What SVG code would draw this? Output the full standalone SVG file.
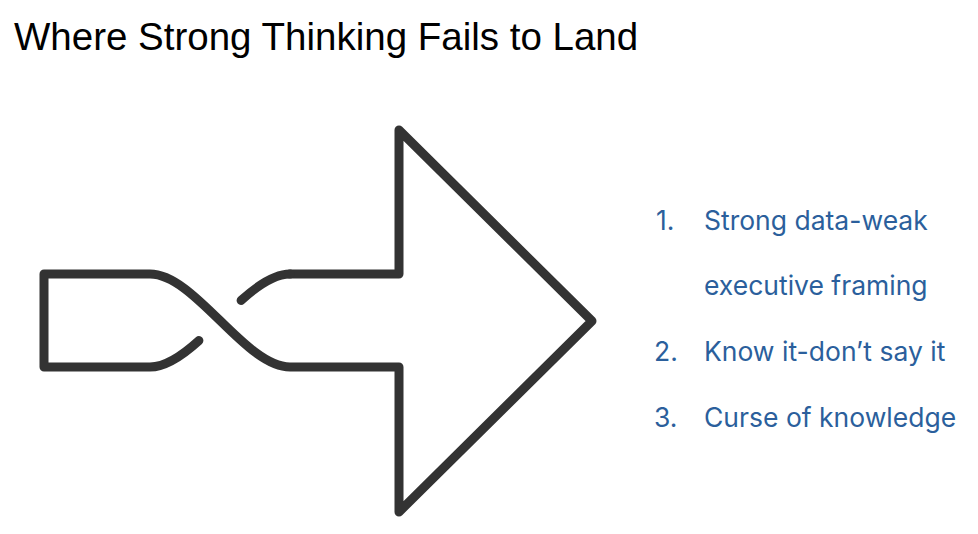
<svg xmlns="http://www.w3.org/2000/svg" width="978" height="534" viewBox="0 0 978 534">
<style>
.title{font-family:"Liberation Sans",Arial,sans-serif;font-size:38.5px;fill:#000}
.item{font-family:Inter,"Noto Sans",sans-serif;font-size:26.5px;fill:#2b5f9c}
.shape{fill:none;stroke:#333333;stroke-width:9;stroke-linejoin:round;stroke-linecap:round}
</style>
<rect width="978" height="534" fill="#ffffff"/>
<g id="title"><text class="title" x="14" y="50">Where Strong Thinking Fails to Land</text></g>
<g id="arrow">
<path class="shape" d="M290,274 L399,274 L399,130 L592,321 L399,512 L399,367 L290,367 C245,367 195,274 150,274 L44,274 L44,367 L150,367 C165.75,367 182.4,355.6 198.9,340.6"/>
<path class="shape" d="M241.1,300.4 C257.6,285.4 274.25,274 290,274"/>
</g>
<g id="list">
<text class="item" x="656" y="230">1.</text>
<text class="item" x="704" y="230">Strong data-weak</text>
<text class="item" x="704" y="295">executive framing</text>
<text class="item" x="654" y="361">2.</text>
<text class="item" x="704" y="361">Know it-don’t say it</text>
<text class="item" x="654" y="427">3.</text>
<text class="item" x="704" y="427">Curse of knowledge</text>
</g>
</svg>
